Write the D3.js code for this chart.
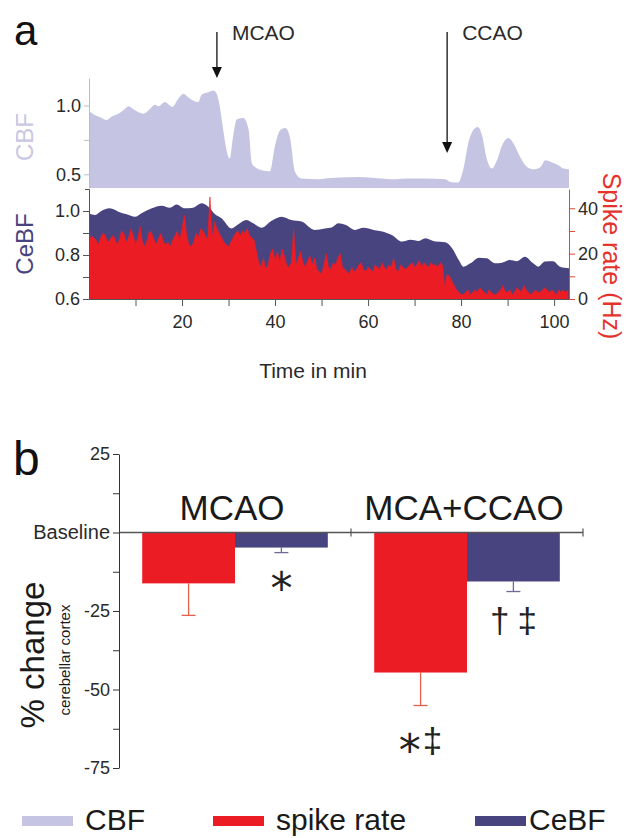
<!DOCTYPE html>
<html><head><meta charset="utf-8">
<script src="https://cdn.jsdelivr.net/npm/d3@7"></script>
<style>body{margin:0;background:#fff}svg{display:block;font-family:"Liberation Sans",Arial,sans-serif}</style>
</head><body>
<svg id="c" width="630" height="838"></svg>
<script>
// ---------- Panel a data ----------
const cbfTime  = [0,1.3,2.4,3.8,4.9,6.3,7.5,8.5,9.9,11.7,13.1,14.2,15.0,16.3,17.9,19.2,20.3,21.3,22.4,23.5,24.2,25.6,26.7,27.4,30.3,31.0,31.8,33.2,34.3,35.0,35.7,37.1,38.9,40.0,41.1,42.2,43.2,44.3,45.7,49.3,51.8,54,57.9,61,65.1,68,72.3,76.6,77.7,79.4,80.5,81.6,82.6,83.6,84.5,85.5,86.6,87.7,88.8,90.2,91.3,92.7,94.2,95.6,97.1,98.1,99.6,100.9,102,103.2];
const cbfValue = [0.96,0.93,0.915,0.895,0.92,0.94,0.97,0.995,0.965,0.94,0.975,1.005,0.995,1.025,0.99,1.05,1.085,1.06,1.035,1.025,1.078,1.097,1.11,1.09,0.614,0.78,0.90,0.91,0.83,0.58,0.553,0.53,0.522,0.71,0.82,0.836,0.77,0.517,0.469,0.464,0.473,0.476,0.48,0.474,0.464,0.47,0.469,0.464,0.444,0.44,0.541,0.734,0.82,0.843,0.783,0.614,0.541,0.601,0.71,0.763,0.722,0.626,0.553,0.536,0.553,0.601,0.585,0.565,0.541,0.536];

const cebfTime  = [0,1.3,2.4,4.5,6.3,8.1,9.9,11.3,13.5,15.6,17.4,18.8,20.6,22.4,24.2,25.6,27.1,28.5,30.6,32.1,33.8,35.3,37.1,39.2,41.4,43.5,45.7,48.5,50.7,52.2,53.6,55.1,57.2,59.0,61.2,63.3,65.1,67.3,69.1,70.9,72.3,74.4,76.6,78.1,79.5,80.5,82.0,83.8,85.5,87.3,88.8,90.5,92.0,93.7,95.5,96.6,98.0,99.8,101.3,103.2];
const cebfValue = [0.99,0.982,0.997,1.012,0.997,0.985,0.974,0.99,1.012,1.024,1.015,1.03,1.012,1.015,1.035,1.02,0.985,0.967,0.921,0.94,0.959,0.944,0.924,0.955,0.974,0.959,0.952,0.914,0.921,0.925,0.944,0.937,0.914,0.924,0.914,0.906,0.891,0.861,0.869,0.864,0.876,0.861,0.858,0.830,0.777,0.747,0.762,0.788,0.785,0.762,0.765,0.777,0.772,0.792,0.762,0.747,0.770,0.772,0.747,0.74];

const spikeStart = 0, spikeStep = 0.5;   // minutes
const spikeRate = [
 25,28,27,26,24,27,29,28,25,26,
 28,27,24,26,30,29,25,27,31,28,
 24,27,32,25,23,26,30,29,26,24,
 27,29,25,24,25,23,26,28,30,26,
 31,37,28,24,23,25,29,27,31,30,
 28,26,45,27,34,31,29,27,25,24,
 23,25,27,29,30,28,30,29,31,28,
 27,26,21,16,14,18,13,15,20,22,
 17,21,16,22,19,15,14,16,31,15,
 18,21,16,14,17,19,15,18,13,12,
 11,15,20,14,13,16,15,18,20,14,
 13,12,11,14,12,13,15,16,13,12,
 14,13,12,15,14,13,16,14,13,15,
 14,18,13,12,15,14,13,14,15,16,
 14,15,17,14,16,15,14,16,15,15,
 14,16,15,5,11,10,8,6,4,3,
 2,2,3,4,2,3,4,3,5,4,
 3,2,4,3,2,2,3,4,6,3,
 3,4,2,3,5,4,3,6,4,3,
 2,3,4,3,3,4,5,4,3,4,
 3,2,4,3,4,3,4];

const xTicks = [10,20,30,40,50,60,70,80,90,100];
const cbfTicks = [0.5,0.75,1.0];
const cebfTicks = [0.6,0.7,0.8,0.9,1.0];
const spikeTicks = [0,10,20,30,40];
const events = [{name:"MCAO", t:27.5}, {name:"CCAO", t:77.0}];

// ---------- Panel b data ----------
const groups = ["MCAO","MCA+CCAO"];
const seriesNames = ["spike rate","CeBF"];
const spikeMean = [-16.2,-44.6];
const spikeErr  = [10.2,10.5];
const cebfMean  = [-4.8,-15.6];
const cebfErr   = [1.6,3.2];
const barTicks = [25,12.5,0,-12.5,-25,-37.5,-50,-62.5,-75];
const sigLabels = [{g:0,s:1,marks:["*"]},{g:1,s:0,marks:["*","\u2021"]},{g:1,s:1,marks:["\u2020","\u2021"]}];

// ---------- colours ----------
const cCBF = "#c6c4e3", cRed = "#ec1c24", cNavy = "#48447f", cText = "#2a2a2a";

const svg = d3.select("#c");

// ===== Panel a =====
const x = d3.scaleLinear().domain([0,103.2]).range([89,569]);
const yCBF = d3.scaleLinear().domain([0.4,1.2]).range([188,78]);
const yCe  = d3.scaleLinear().domain([0.6,1.1]).range([299,189]);
const ySp  = d3.scaleLinear().domain([0,48.5]).range([299,189]);

svg.append("defs").append("clipPath").attr("id","clipA")
  .append("rect").attr("x",89).attr("y",70).attr("width",480).attr("height",230);

const gA = svg.append("g").attr("clip-path","url(#clipA)");
const cbfData = cbfTime.map((t,i)=>({t, v:cbfValue[i]}));
gA.append("path").datum(cbfData)
  .attr("fill",cCBF)
  .attr("d", d3.area().curve(d3.curveMonotoneX).x(d=>x(d.t)).y0(yCBF(0.4)).y1(d=>yCBF(d.v)));

const ceData = cebfTime.map((t,i)=>({t, v:cebfValue[i]}));
gA.append("path").datum(ceData)
  .attr("fill",cNavy)
  .attr("d", d3.area().curve(d3.curveMonotoneX).x(d=>x(d.t)).y0(yCe(0.6)).y1(d=>yCe(d.v)));

const spData = spikeRate.map((v,i)=>({t: spikeStart + i*spikeStep, v}));
gA.append("path").datum(spData)
  .attr("fill",cRed).attr("stroke",cRed).attr("stroke-width",0.6)
  .attr("d", d3.area().x(d=>x(d.t)).y0(ySp(0)).y1(d=>ySp(d.v)));

// CBF axis (light)
const axCBF = svg.append("g").attr("transform","translate(89,0)")
  .call(d3.axisLeft(yCBF).tickValues(cbfTicks).tickSize(5).tickSizeOuter(0)
        .tickFormat(d => d===0.75 ? "" : d3.format(".1f")(d)));
axCBF.select(".domain").attr("stroke","#bdbdbd");
axCBF.selectAll(".tick line").attr("stroke","#bdbdbd");
axCBF.selectAll("text").attr("font-size",18).attr("fill",cText).attr("font-family","Liberation Sans, Arial");

// CeBF axis
const axCe = svg.append("g").attr("transform","translate(89,0)")
  .call(d3.axisLeft(yCe).tickValues(cebfTicks).tickSize(6).tickSizeOuter(4)
        .tickFormat(d => [0.6,0.8,1.0].includes(d) ? d3.format(".1f")(d) : ""));
axCe.selectAll(".domain,.tick line").attr("stroke","#555");
axCe.selectAll("text").attr("font-size",18).attr("fill",cText).attr("font-family","Liberation Sans, Arial");

// Bottom axis
const axX = svg.append("g").attr("transform","translate(0,299)")
  .call(d3.axisBottom(x).tickValues(xTicks).tickSize(7).tickSizeOuter(0)
        .tickFormat(d => d%20===0 ? d : ""));
axX.selectAll(".domain,.tick line").attr("stroke","#555");
axX.selectAll("text").attr("font-size",18).attr("fill",cText).attr("dy","1.05em").attr("font-family","Liberation Sans, Arial");

// Right spike axis
const axSp = svg.append("g").attr("transform","translate(569,0)")
  .call(d3.axisRight(ySp).tickValues(spikeTicks).tickSize(6).tickSizeOuter(0)
        .tickFormat(d => d%20===0 ? d : ""));
axSp.selectAll(".domain,.tick line").attr("stroke","#e8452f");
axSp.selectAll("text").attr("font-size",18).attr("fill",cText).attr("font-family","Liberation Sans, Arial");

// axis titles
svg.append("text").attr("transform","translate(33,137) rotate(-90)").attr("text-anchor","middle")
  .attr("font-size",24).attr("fill","#c9c7e3").text("CBF");
svg.append("text").attr("transform","translate(33,244) rotate(-90)").attr("text-anchor","middle")
  .attr("font-size",24).attr("fill",cNavy).text("CeBF");
svg.append("text").attr("transform","translate(603,256) rotate(90)").attr("text-anchor","middle")
  .attr("font-size",25).attr("fill","#e5322a").text("Spike rate (Hz)");
svg.append("text").attr("x",313).attr("y",378).attr("text-anchor","middle")
  .attr("font-size",21).attr("fill",cText).text("Time in min");
svg.append("text").attr("x",14).attr("y",45).attr("font-size",42).attr("fill","#111").text("a");

// event arrows
const arrowBottom = {MCAO:78, CCAO:153};
events.forEach(e => {
  const ex = x(e.t), yb = arrowBottom[e.name];
  svg.append("line").attr("x1",ex).attr("x2",ex).attr("y1",32).attr("y2",yb-9)
    .attr("stroke","#222").attr("stroke-width",1.4);
  svg.append("path").attr("d",`M${ex-5},${yb-11}L${ex+5},${yb-11}L${ex},${yb}Z`).attr("fill","#111");
  svg.append("text").attr("x",ex+15).attr("y",40).attr("font-size",21).attr("fill",cText).text(e.name);
});

// ===== Panel b =====
const yB = d3.scaleLinear().domain([-75,25]).range([768,454]);
const xB = d3.scaleBand().domain(groups).range([119,583]).paddingInner(0).paddingOuter(0);
const xS = d3.scaleBand().domain(seriesNames).range([0, xB.bandwidth()]).paddingInner(0).paddingOuter(0.25);

svg.append("text").attr("x",13).attr("y",475).attr("font-size",48).attr("fill","#111").text("b");

const barData = [];
groups.forEach((g,i)=>{
  barData.push({g, s:"spike rate", v:spikeMean[i], e:spikeErr[i], fill:cRed, ec:"#e4604a"});
  barData.push({g, s:"CeBF", v:cebfMean[i], e:cebfErr[i], fill:cNavy, ec:"#6d6a98"});
});

// error bars
barData.forEach(d=>{
  const cx = xB(d.g) + xS(d.s) + xS.bandwidth()/2;
  svg.append("line").attr("x1",cx).attr("x2",cx).attr("y1",yB(d.v)).attr("y2",yB(d.v-d.e))
    .attr("stroke",d.ec).attr("stroke-width",1.3);
  svg.append("line").attr("x1",cx-7).attr("x2",cx+7).attr("y1",yB(d.v-d.e)).attr("y2",yB(d.v-d.e))
    .attr("stroke",d.ec).attr("stroke-width",1.3);
});
svg.append("g").selectAll("rect").data(barData).join("rect")
  .attr("x", d => xB(d.g) + xS(d.s))
  .attr("width", xS.bandwidth())
  .attr("y", yB(0))
  .attr("height", d => yB(d.v) - yB(0))
  .attr("fill", d => d.fill);

// baseline with group boundary ticks
svg.append("line").attr("x1",119).attr("x2",583).attr("y1",yB(0)).attr("y2",yB(0))
  .attr("stroke","#555").attr("stroke-width",1.3);
groups.forEach(g=>{
  const bx = xB(g) + xB.bandwidth();
  svg.append("line").attr("x1",bx).attr("x2",bx).attr("y1",yB(0)-4).attr("y2",yB(0)+4)
    .attr("stroke","#555").attr("stroke-width",1.2);
});

// y axis
const axB = svg.append("g").attr("transform","translate(119,0)")
  .call(d3.axisLeft(yB).tickValues(barTicks).tickSize(6).tickSizeOuter(0)
        .tickFormat(d => d===0 ? "Baseline" : (d%25===0 ? d : "")));
axB.selectAll(".domain,.tick line").attr("stroke","#333");
axB.selectAll("text").attr("font-size",18).attr("fill",cText).attr("font-family","Liberation Sans, Arial");
axB.selectAll(".tick").filter(d=>d===0).select("text").attr("font-size",20);

// group labels
groups.forEach(g=>{
  svg.append("text").attr("x",xB(g)+xB.bandwidth()/2 - 3).attr("y",520).attr("text-anchor","middle")
    .attr("font-size",35).attr("fill","#1a1a1a").text(g);
});

// significance markers (star drawn larger, daggers taller)
const sigBase = [590, 752, 633];
sigLabels.forEach((d,i)=>{
  const cx = xB(groups[d.g]) + xS(seriesNames[d.s]) + xS.bandwidth()/2;
  const t = svg.append("text").attr("x",cx).attr("y",sigBase[i]).attr("text-anchor","middle").attr("fill","#222");
  d.marks.forEach((m,j)=>{
    const ts = t.append("tspan").text(m);
    if (m === "*") ts.attr("font-size",44).attr("font-family","DejaVu Sans").attr("dy", j===0 ? "0.32em" : 0);
    else ts.attr("font-size",35).attr("dy", (j>0 && d.marks[0]==="*") ? "-0.38em" : 0).attr("dx", j>0 ? (d.marks[0]==="*" ? 2 : 8) : 0);
  });
});

// y titles
svg.append("text").attr("transform","translate(44,655) rotate(-90)").attr("text-anchor","middle")
  .attr("font-size",33).attr("fill","#1a1a1a").text("% change");
svg.append("text").attr("transform","translate(70,660) rotate(-90)").attr("text-anchor","middle")
  .attr("font-size",15).attr("fill","#1a1a1a").text("cerebellar cortex");

// ===== Legend =====
const legendItems = [
  {label:"CBF", color:cCBF, x:22},
  {label:"spike rate", color:cRed, x:213},
  {label:"CeBF", color:cNavy, x:475}
];
const lg = svg.append("g");
legendItems.forEach(d=>{
  lg.append("rect").attr("x",d.x).attr("y",816).attr("width",51).attr("height",10).attr("fill",d.color);
  lg.append("text").attr("x", d.label==="CeBF" ? d.x+54 : d.x+63).attr("y",830)
    .attr("font-size",30).attr("fill","#1a1a1a").text(d.label);
});
</script>
</body></html>
